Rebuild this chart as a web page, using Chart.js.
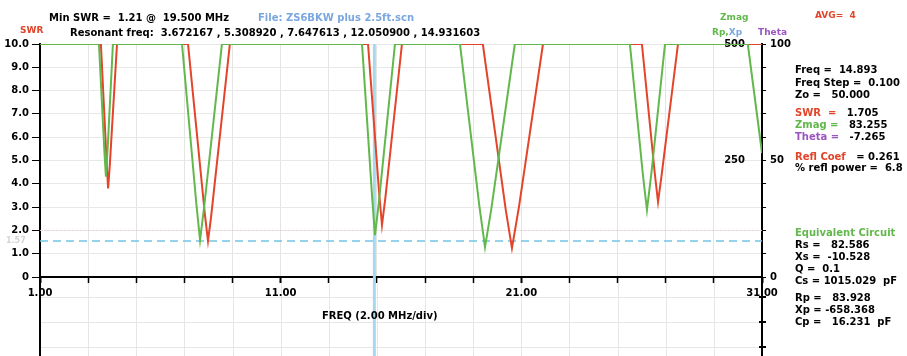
<!DOCTYPE html>
<html>
<head>
<meta charset="utf-8">
<script src="https://cdn.jsdelivr.net/npm/chart.js@4.4.0/dist/chart.umd.min.js"></script>
<style>
  html, body { margin: 0; padding: 0; background: #fff; }
  #wrap { width: 907px; height: 356px; }
</style>
</head>
<body>
<div id="wrap"><canvas id="swrChart" width="907" height="356"></canvas></div>
<script>
// sweep 1 - 31 MHz (clipped at top of scale)
const swrFreqs = [1.00, 3.53, 3.78, 3.83, 3.90, 4.20,
    7.15, 7.85, 7.98, 8.10, 8.89,
    14.63, 15.10, 15.21, 15.35, 16.04,
    19.40, 20.35, 20.61, 20.90, 21.90,
    26.01, 26.55, 26.68, 26.82, 27.51, 31.00];
const swrValues = [10, 10, 4.7, 3.8, 4.8, 10,
    10, 2.7, 1.55, 2.5, 10,
    10, 3.5, 2.23, 3.4, 10,
    10, 2.9, 1.24, 3.0, 10,
    10, 4.4, 3.22, 4.3, 10, 10];

const zmagFreqs = [1.00, 3.45, 3.68, 3.74, 3.82, 4.03,
    6.90, 7.50, 7.65, 7.82, 8.56,
    14.38, 14.80, 14.92, 15.08, 15.75,
    18.45, 19.25, 19.49, 19.75, 20.73,
    25.51, 26.05, 26.22, 26.42, 26.97,
    30.41, 31.00];
const zmagValues = [500, 500, 265, 215, 285, 500,
    500, 155, 79, 150, 500,
    500, 172, 90, 160, 500,
    500, 155, 64, 145, 500,
    500, 220, 144, 230, 500,
    500, 266];

const freqTicks = [1, 3, 5, 7, 9, 11, 13, 15, 17, 19, 21, 23, 25, 27, 29, 31];
const freqLabels = [1, 11, 21, 31];
const zmagLabels = [250, 500];
const thetaLabels = [0, 50, 100];

const cursorFreq = 14.893;
const swrTarget = 1.55;
const swrLimit = 2.0;

const RED = '#e2452a';
const GREEN = '#62b84c';
const PURPLE = '#9b55c0';
const BLUE = '#7aa7e0';
const FONT = 'bold 10px "DejaVu Sans"';
const tickFont = { family: 'DejaVu Sans', size: 10, weight: 'bold' };

const toPoints = (xs, ys) => xs.map((x, i) => ({ x: x, y: ys[i] }));

function drawParts(ctx, x, y, parts) {
    parts.forEach(([text, color]) => {
        ctx.fillStyle = color;
        ctx.fillText(text, x, y);
        x += ctx.measureText(text).width;
    });
}

const screenPlugin = {
    id: 'screenPlugin',
    beforeDraw(chart) {
        // grid of the lower panel that is cut off by the crop
        const { ctx, chartArea: a, scales } = chart;
        ctx.save();
        ctx.strokeStyle = '#e6e6e6';
        ctx.lineWidth = 1;
        freqTicks.forEach((f) => {
            const x = Math.round(scales.x.getPixelForValue(f)) + 0.5;
            ctx.beginPath();
            ctx.moveTo(x, a.bottom);
            ctx.lineTo(x, chart.height);
            ctx.stroke();
        });
        [20, 45, 70].forEach((dy) => {
            ctx.beginPath();
            ctx.moveTo(a.left, a.bottom + dy + 0.5);
            ctx.lineTo(a.right, a.bottom + dy + 0.5);
            ctx.stroke();
        });
        ctx.strokeStyle = '#000';
        ctx.lineWidth = 2;
        [a.left, a.right].forEach((x) => {
            ctx.beginPath();
            ctx.moveTo(x, a.bottom);
            ctx.lineTo(x, chart.height);
            ctx.stroke();
        });
        [20, 45, 70].forEach((dy) => {
            ctx.beginPath();
            ctx.moveTo(a.right - 3, a.bottom + dy);
            ctx.lineTo(a.right + 4, a.bottom + dy);
            ctx.stroke();
        });
        ctx.restore();
    },
    beforeDatasetsDraw(chart) {
        const { ctx, chartArea: a, scales } = chart;
        ctx.save();
        const yLim = scales.y.getPixelForValue(swrLimit);
        ctx.strokeStyle = '#f0d2d2';
        ctx.lineWidth = 1;
        ctx.setLineDash([2, 2]);
        ctx.beginPath();
        ctx.moveTo(a.left, yLim);
        ctx.lineTo(a.right, yLim);
        ctx.stroke();

        const yT = scales.y.getPixelForValue(swrTarget);
        ctx.strokeStyle = '#74c3e3';
        ctx.lineWidth = 1.5;
        ctx.setLineDash([8, 5]);
        ctx.beginPath();
        ctx.moveTo(a.left, yT);
        ctx.lineTo(a.right, yT);
        ctx.stroke();

        const xc = scales.x.getPixelForValue(cursorFreq);
        ctx.setLineDash([]);
        ctx.strokeStyle = '#a6d9ec';
        ctx.lineWidth = 3;
        ctx.beginPath();
        ctx.moveTo(xc, a.top);
        ctx.lineTo(xc, chart.height);
        ctx.stroke();
        ctx.restore();
    },
    afterDraw(chart) {
        const { ctx, scales } = chart;
        ctx.save();
        ctx.font = FONT;
        ctx.textBaseline = 'middle';
        ctx.textAlign = 'left';

        drawParts(ctx, 49, 18, [['Min SWR =  1.21 @  19.500 MHz', '#000']]);
        drawParts(ctx, 258, 18, [['File: ZS6BKW plus 2.5ft.scn', BLUE]]);
        drawParts(ctx, 70, 33, [['Resonant freq:  3.672167 , 5.308920 , 7.647613 , 12.050900 , 14.931603', '#000']]);
        ctx.font = 'bold 9px "DejaVu Sans"';
        drawParts(ctx, 20, 31, [['SWR', RED]]);
        drawParts(ctx, 720, 18, [['Zmag', GREEN]]);
        drawParts(ctx, 815, 16, [['AVG=  4', RED]]);
        drawParts(ctx, 712, 33, [['Rp,', GREEN], ['Xp', BLUE]]);
        drawParts(ctx, 758, 33, [['Theta', PURPLE]]);

        // readout panel
        ctx.font = FONT;
        const px = 795;
        drawParts(ctx, px, 70, [['Freq =  14.893', '#000']]);
        drawParts(ctx, px, 83, [['Freq Step =  0.100', '#000']]);
        drawParts(ctx, px, 95, [['Zo =   50.000', '#000']]);
        drawParts(ctx, px, 113, [['SWR  =', RED], ['   1.705', '#000']]);
        drawParts(ctx, px, 125, [['Zmag =', GREEN], ['   83.255', '#000']]);
        drawParts(ctx, px, 137, [['Theta =', PURPLE], ['   -7.265', '#000']]);
        drawParts(ctx, px, 157, [['Refl Coef', RED], ['   = 0.261', '#000']]);
        drawParts(ctx, px, 168, [['% refl power =  6.8', '#000']]);
        drawParts(ctx, px, 233, [['Equivalent Circuit', GREEN]]);
        drawParts(ctx, px, 245, [['Rs =   82.586', '#000']]);
        drawParts(ctx, px, 257, [['Xs =  -10.528', '#000']]);
        drawParts(ctx, px, 269, [['Q =  0.1', '#000']]);
        drawParts(ctx, px, 281, [['Cs = 1015.029  pF', '#000']]);
        drawParts(ctx, px, 298, [['Rp =   83.928', '#000']]);
        drawParts(ctx, px, 310, [['Xp = -658.368', '#000']]);
        drawParts(ctx, px, 322, [['Cp =   16.231  pF', '#000']]);

        // x axis caption
        drawParts(ctx, 322, 316, [['FREQ (2.00 MHz/div)', '#000']]);

        // faint target label
        ctx.font = 'bold 8px "DejaVu Sans"';
        drawParts(ctx, 6, scales.y.getPixelForValue(swrTarget), [['1.57', '#d4d4d4']]);
        ctx.restore();
    }
};

const ctx = document.getElementById('swrChart');
new Chart(ctx, {
    type: 'line',
    data: {
        datasets: [
            {
                label: 'Zmag',
                data: toPoints(zmagFreqs, zmagValues),
                yAxisID: 'yZ',
                borderColor: GREEN,
                borderWidth: 2,
                pointRadius: 0,
                tension: 0
            },
            {
                label: 'SWR',
                data: toPoints(swrFreqs, swrValues),
                yAxisID: 'y',
                borderColor: RED,
                borderWidth: 2,
                pointRadius: 0,
                tension: 0
            }
        ]
    },
    options: {
        responsive: false,
        animation: false,
        devicePixelRatio: 1,
        layout: { padding: { top: 44, left: 0, right: 0, bottom: 0 } },
        plugins: {
            legend: { display: false },
            tooltip: { enabled: false }
        },
        scales: {
            x: {
                type: 'linear',
                min: 1,
                max: 31,
                afterBuildTicks: (s) => { s.ticks = freqTicks.map((v) => ({ value: v })); },
                afterFit: (s) => { s.height = 79; },
                ticks: {
                    autoSkip: false,
                    maxRotation: 0,
                    padding: 4,
                    color: '#000',
                    font: tickFont,
                    callback: (v) => freqLabels.includes(v) ? v.toFixed(2) : ''
                },
                grid: {
                    color: '#e4e4e4',
                    tickColor: '#000',
                    tickLength: 6,
                    tickWidth: (c) => freqLabels.includes(c.tick.value) ? 2 : 1.5
                },
                border: { color: '#000', width: 2 }
            },
            y: {
                position: 'left',
                min: 0,
                max: 10,
                afterFit: (s) => { s.width = 40; },
                ticks: {
                    stepSize: 1,
                    padding: 3,
                    color: '#000',
                    font: tickFont,
                    callback: (v) => v === 0 ? '0' : v.toFixed(1)
                },
                grid: { color: '#e8e8e8', tickColor: '#000', tickLength: 8 },
                border: { color: '#000', width: 2 }
            },
            yZ: {
                position: 'right',
                min: 0,
                max: 500,
                afterBuildTicks: (s) => { s.ticks = zmagLabels.map((v) => ({ value: v })); },
                afterFit: (s) => { s.width = 0; },
                ticks: { mirror: true, padding: -17, color: '#000', font: tickFont },
                grid: { display: false },
                border: { display: false }
            },
            yT: {
                position: 'right',
                min: 0,
                max: 100,
                afterFit: (s) => { s.width = 145; },
                ticks: {
                    stepSize: 10,
                    padding: 4,
                    color: '#000',
                    font: tickFont,
                    callback: (v) => thetaLabels.includes(v) ? String(v) : ''
                },
                grid: { drawOnChartArea: false, tickColor: '#000', tickLength: 4 },
                border: { color: '#000', width: 2 }
            }
        }
    },
    plugins: [screenPlugin]
});
</script>
</body>
</html>
